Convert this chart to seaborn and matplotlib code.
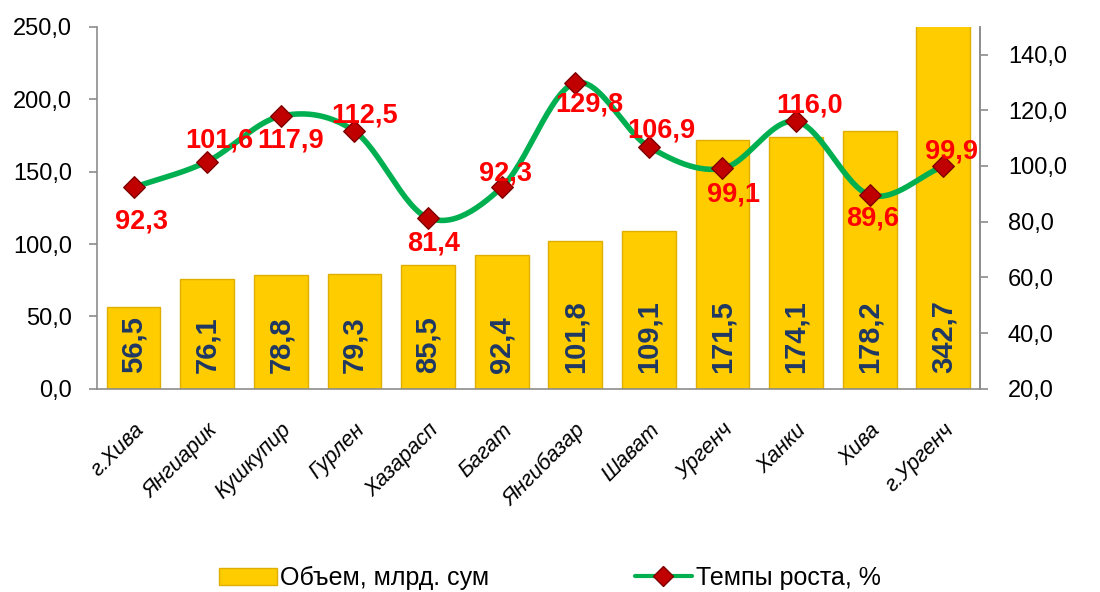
import numpy as np
import pandas as pd
import matplotlib
matplotlib.use('Agg')
import matplotlib.pyplot as plt
from matplotlib.ticker import FuncFormatter, FixedLocator
from matplotlib.patches import Patch
from matplotlib.lines import Line2D
import seaborn as sns

# data
districts = ['г.Хива', 'Янгиарик', 'Кушкупир', 'Гурлен', 'Хазарасп', 'Багат',
             'Янгибазар', 'Шават', 'Ургенч', 'Ханки', 'Хива', 'г.Ургенч']
volume = [56.5, 76.1, 78.8, 79.3, 85.5, 92.4, 101.8, 109.1, 171.5, 174.1, 178.2, 342.7]
growth = [92.3, 101.6, 117.9, 112.5, 81.4, 92.3, 129.8, 106.9, 99.1, 116.0, 89.6, 99.9]

vol_name = 'Объем, млрд. сум'
growth_name = 'Темпы роста, %'

sns.set_style('white')
plt.rcParams['font.family'] = ['Liberation Sans', 'DejaVu Sans']

df = pd.DataFrame({'district': districts, 'volume': volume, 'growth': growth})

fig = plt.figure(figsize=(11, 5.92), dpi=100)
ax = fig.add_axes([0.088, 0.343, 0.803, 0.612])

gold = '#FFCC00'
sns.barplot(data=df, x='district', y='volume', color=gold, width=0.73,
            edgecolor='#E0AE00', linewidth=1.0, saturation=1, ax=ax)
ax.set_ylim(0, 250)
ax.set_xlim(-0.5, len(districts) - 0.5)
ax.set_xlabel('')
ax.set_ylabel('')

comma = FuncFormatter(lambda v, p: f'{v:.1f}'.replace('.', ','))
ax.yaxis.set_major_formatter(comma)
ax.set_yticks(np.arange(0, 251, 50))

# bar values inside bars
for i, v in enumerate(volume):
    ax.text(i, 11, f'{v:.1f}'.replace('.', ','), rotation=90, ha='center', va='bottom',
            fontsize=21, fontweight='bold', color='#1F3864', zorder=5)

ax.set_xticks(range(len(districts)))
ax.set_xticklabels(districts, rotation=45, ha='right', rotation_mode='anchor',
                   fontsize=15.5, style='italic', color='black')
ax.xaxis.set_minor_locator(FixedLocator(np.arange(-0.5, len(districts), 1)))
ax.tick_params(axis='x', which='major', length=0, pad=22)
ax.tick_params(axis='x', which='minor', length=7, color='#8C8C8C', width=1.2, direction='out')
ax.tick_params(axis='y', length=6, color='#8C8C8C', width=1.2, direction='out',
               labelsize=17, labelcolor='black', pad=12)

ax.spines['top'].set_visible(False)
for s in ['left', 'bottom', 'right']:
    ax.spines[s].set_color('#8C8C8C')
    ax.spines[s].set_linewidth(1.2)

# growth line on right axis
ax2 = ax.twinx()
ax2.set_ylim(20, 150)
ax2.set_yticks(np.arange(20, 141, 20))
ax2.yaxis.set_major_formatter(comma)
ax2.tick_params(axis='y', length=6, color='#8C8C8C', width=1.2, direction='out',
                labelsize=17, labelcolor='black', pad=14)
for s in ['top', 'left', 'bottom']:
    ax2.spines[s].set_visible(False)
ax2.spines['right'].set_color('#8C8C8C')
ax2.spines['right'].set_linewidth(1.2)

# smooth curve (Catmull-Rom through the points)
x = np.arange(len(growth), dtype=float)
y = np.array(growth)
px = np.concatenate([[2 * x[0] - x[1]], x, [2 * x[-1] - x[-2]]])
py = np.concatenate([[2 * y[0] - y[1]], y, [2 * y[-1] - y[-2]]])
xs, ys = [], []
t = np.linspace(0, 1, 30)
for k in range(1, len(px) - 2):
    p0, p1, p2, p3 = px[k - 1], px[k], px[k + 1], px[k + 2]
    q0, q1, q2, q3 = py[k - 1], py[k], py[k + 1], py[k + 2]
    for a, b, c, d, out in [(p0, p1, p2, p3, xs), (q0, q1, q2, q3, ys)]:
        out.extend(0.5 * (2 * b + (-a + c) * t + (2 * a - 5 * b + 4 * c - d) * t ** 2
                          + (-a + 3 * b - 3 * c + d) * t ** 3))
ax2.plot(xs, ys, color='#00B050', lw=4, solid_capstyle='round', zorder=3)
sns.scatterplot(x=x, y=y, marker='D', s=120, color='#C00000', edgecolor='#7F0000',
                linewidth=1, zorder=4, ax=ax2, legend=False)

offsets = [(8, -34), (12, 21), (10, -24), (10, 16), (6, -26), (4, 14),
           (14, -22), (12, 16), (11, -26), (13, 16), (3, -24), (8, 15)]
for i, v in enumerate(growth):
    dx, dy = offsets[i]
    ax2.annotate(f'{v:.1f}'.replace('.', ','), (i, v), xytext=(dx, dy),
                 textcoords='offset pixels', ha='center', va='center',
                 fontsize=19.5, fontweight='bold', color='#FF0000', zorder=6)

handles = [Patch(facecolor=gold, edgecolor='#E0AE00'),
           Line2D([0], [0], color='#00B050', lw=3, marker='D', markersize=10,
                  markerfacecolor='#C00000', markeredgecolor='#7F0000')]
leg = fig.legend(handles, [vol_name, growth_name], loc='lower center', ncol=2,
                 bbox_to_anchor=(0.5, -0.035), frameon=False, fontsize=18,
                 columnspacing=5.8, handlelength=2.3, handletextpad=0.15)
for txt in leg.get_texts():
    txt.set_color('black')

fig.savefig('out.png', dpi=100)
